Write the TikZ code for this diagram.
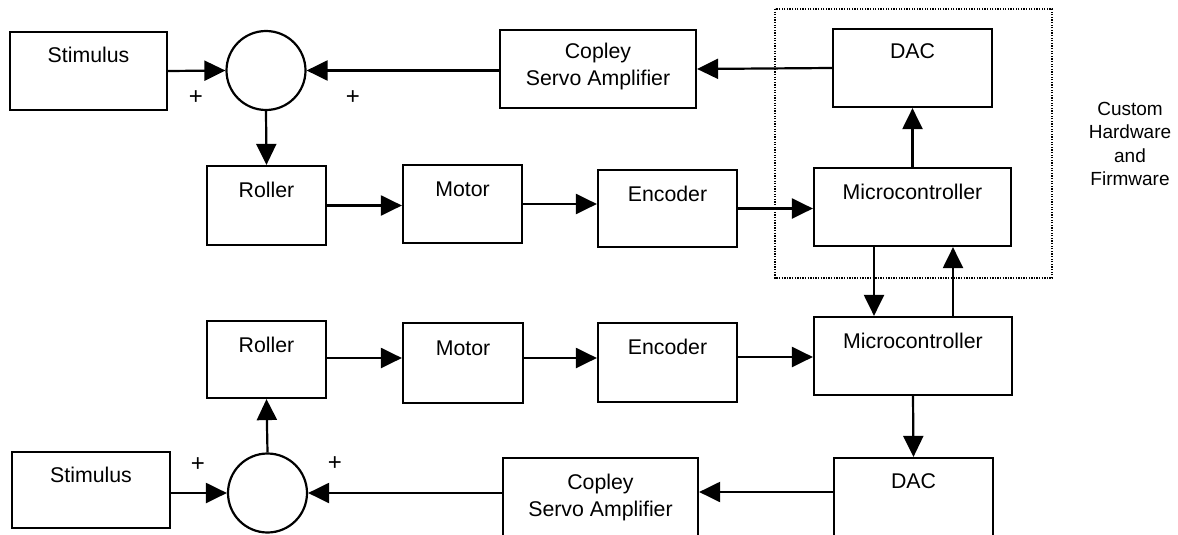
\documentclass[tikz,border=0pt]{standalone}
\usepackage{fontspec}
\setmainfont{Liberation Sans}
\usetikzlibrary{arrows.meta}
\begin{document}
\begin{tikzpicture}[x=1pt,y=-1pt,
  box/.style={draw, rectangle, line width=2.2pt, inner sep=0pt, text height=31pt, font=\fontsize{21.3}{27}\selectfont},
  sumc/.style={draw, circle, line width=2.2pt, minimum size=79pt, inner sep=0pt},
  arr/.style={line width=2.2pt, -{Triangle[length=21pt,width=20pt]}},
  pl/.style={font=\fontsize{24}{25}\selectfont, inner sep=0pt},
  dotbox/.style={line width=1.4pt, dash pattern=on 1.3pt off 1.3pt},
  side/.style={font=\fontsize{19}{23.5}\selectfont, inner sep=0pt},
]
\clip (0,0) rectangle (1178,535);
\useasboundingbox (0,0) rectangle (1178,535);

% ---------- top loop ----------
\node[box, minimum width=157pt, text depth=47pt] (stim1) at (88.5,71) {Stimulus};
\node[sumc] (circ1) at (266,70.5) {};
\node[box, minimum width=119pt, text depth=48pt] (roller1) at (266.5,205.5) {Roller};
\node[box, minimum width=119pt, text depth=47pt] (motor1) at (462.5,204) {Motor};
\node[box, minimum width=139pt, text depth=46pt] (enc1) at (667.5,208.5) {Encoder};
\node[box, minimum width=197pt, text depth=47pt] (micro1) at (912.5,207) {Microcontroller};
\node[box, minimum width=159pt, text depth=48pt, text height=30pt] (dac1) at (912.5,68) {DAC};
\node[box, minimum width=196pt, text depth=49pt, text height=29pt] (copley1) at (598,69)
  {\begin{tabular}[t]{@{}c@{}}Copley\\Servo Amplifier\end{tabular}};

\draw[dotbox] (775,9) rectangle (1052,278);
\node[side, anchor=base] (custom) at (1130,115)
  {\begin{tabular}[t]{@{}c@{}}Custom\\Hardware\\and\\Firmware\end{tabular}};

\node[pl] (p1a) at (196,98) {+};
\node[pl] (p1b) at (353,98) {+};

\draw[arr] (stim1.east) -- (circ1.west);
\draw[arr] (copley1.west |- circ1.east) -- (circ1.east);
\draw[arr] (circ1.south) -- (roller1.north);
\draw[arr] (roller1.east) -- (motor1.west |- roller1.east);
\draw[arr] (motor1.east) -- (enc1.west |- motor1.east);
\draw[arr] (enc1.east) -- (micro1.west |- enc1.east);
\draw[arr] (micro1.north) -- (dac1.south);
\draw[arr] (dac1.west) -- (copley1.east);

% ---------- bottom loop ----------
\node[box, minimum width=198pt, text depth=47pt, text height=31pt] (micro2) at (913,356) {Microcontroller};
\node[box, minimum width=159pt, text depth=48pt, text height=30pt] (dac2) at (913.5,497) {DAC};
\node[box, minimum width=195pt, text depth=47pt, text height=31pt] (copley2) at (600.5,497)
  {\begin{tabular}[t]{@{}c@{}}Copley\\Servo Amplifier\end{tabular}};
\node[sumc] (circ2) at (267.5,493) {};
\node[box, minimum width=158pt, text depth=46pt, text height=30pt] (stim2) at (91,490) {Stimulus};
\node[box, minimum width=119pt, text depth=46pt] (roller2) at (266.5,359.5) {Roller};
\node[box, minimum width=120pt, text depth=48pt, text height=32pt] (motor2) at (463,363) {Motor};
\node[box, minimum width=139pt, text depth=48pt] (enc2) at (667.5,362.5) {Encoder};

\node[pl] (p2a) at (198,465) {+};
\node[pl] (p2b) at (335,464) {+};

\coordinate (d2w) at ([yshift=5pt]dac2.west);
\coordinate (r2e) at ([yshift=1.5pt]roller2.east);
\coordinate (m2e) at ([yshift=5pt]motor2.east);
\coordinate (e2e) at ([yshift=5.5pt]enc2.east);

\draw[arr] ([xshift=-38.5pt]micro1.south) -- ([xshift=-39pt]micro2.north);
\draw[arr] ([xshift=40pt]micro2.north) -- ([xshift=40.5pt]micro1.south);
\draw[arr] (micro2.south) -- (dac2.north);
\draw[arr] (d2w) -- (copley2.east |- d2w);
\draw[arr] (copley2.west |- circ2.east) -- (circ2.east);
\draw[arr] (stim2.east |- circ2.west) -- (circ2.west);
\draw[arr] (circ2.north) -- (roller2.south);
\draw[arr] (r2e) -- (motor2.west |- r2e);
\draw[arr] (m2e) -- (enc2.west |- m2e);
\draw[arr] (e2e) -- (micro2.west |- e2e);
\end{tikzpicture}
\end{document}
